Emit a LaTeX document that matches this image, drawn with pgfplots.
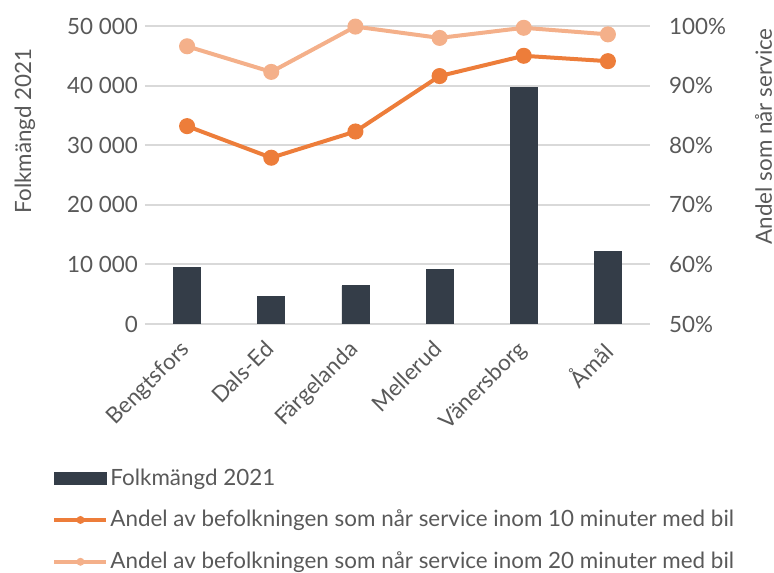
\documentclass[border=0pt]{standalone}
\usepackage{fontspec}
\setmainfont{Lato}
\usepackage{pgfplots}
\pgfplotsset{compat=1.18}
\definecolor{barcol}{HTML}{343D48}
\definecolor{min10}{HTML}{ED7D3A}
\definecolor{min20}{HTML}{F4B08A}
\definecolor{gridcol}{HTML}{D9D9D9}
\definecolor{txt}{HTML}{595959}

\pgfplotsset{
  common/.style={
    width=252.5pt, height=149pt, scale only axis,
    xmin=-0.5, xmax=5.5,
    tick style={draw=none},
    tick label style={text=txt},
    /pgf/number format/assume math mode=true,
  },
  linelegend/.style={legend image code/.code={%
    \draw[#1] (0pt,0pt) -- (26pt,0pt);
    \fill[draw=none,#1] (13pt,0pt) circle (2pt);}},
}

\begin{document}
\begin{tikzpicture}[font=\fontsize{11.2}{13.4}\selectfont]
\begin{axis}[common,
    ymin=0, ymax=50000,
    ytick={0,10000,...,50000},
    /pgf/number format/.cd, 1000 sep={\ }, /pgfplots/.cd,
    scaled y ticks=false,
    ymajorgrids, grid style={gridcol, line width=1pt},
    axis line style={draw=none},
    xtick={0,...,5},
    xticklabels={Bengtsfors,Dals-Ed,Färgelanda,Mellerud,Vänersborg,Åmål},
    xticklabel style={xshift=-4pt, yshift=-6pt, rotate=45, anchor=north east, inner sep=1pt},
    ylabel={Folkmängd 2021}, ylabel style={text=txt, anchor=center, at={(rel axis cs:-0.238,0.648)}},
  ]
\addplot[ybar, bar width=13.5pt, fill=barcol, draw=barcol] coordinates {
  (0,9430) (1,4550) (2,6400) (3,9090) (4,39700) (5,12120)};
\end{axis}
\begin{axis}[common,
    axis x line=none, axis y line*=right,
    axis line style={draw=none},
    ymin=50, ymax=100, ytick={50,60,...,100},
    yticklabel={\pgfmathprintnumber{\tick}\%},
    yticklabel style={xshift=6pt},
    ylabel={Andel som når service}, ylabel style={text=txt, anchor=center, rotate=0, at={(rel axis cs:1.225,0.63)}},
    legend style={at={(rel axis cs:-0.184,-0.477)}, anchor=north west, draw=none, fill=none,
      text=txt, row sep=9pt, inner sep=0pt, nodes={inner sep=1pt}},
    legend cell align=left,
  ]
\addlegendimage{legend image code/.code={\fill[barcol] (0pt,-3pt) rectangle (26pt,3pt);}}
\addlegendentry{Folkmängd 2021}
\addplot[min10, line width=2pt, mark=*, mark size=3pt, linelegend]
  coordinates {(0,83.2) (1,77.9) (2,82.3) (3,91.6) (4,95.0) (5,94.1)};
\addlegendentry{Andel av befolkningen som når service inom 10 minuter med bil}
\addplot[min20, line width=2pt, mark=*, mark size=3pt, linelegend]
  coordinates {(0,96.6) (1,92.3) (2,99.9) (3,98.0) (4,99.7) (5,98.6)};
\addlegendentry{Andel av befolkningen som når service inom 20 minuter med bil}
\end{axis}
\pgfresetboundingbox
\path (-72.5pt,-124pt) rectangle (314.5pt,162pt);
\end{tikzpicture}
\end{document}
